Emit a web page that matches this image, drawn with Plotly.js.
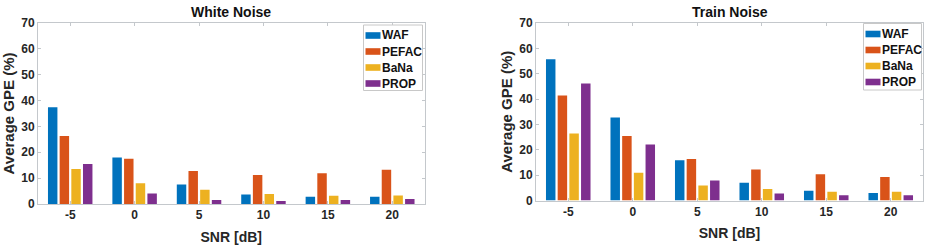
<!DOCTYPE html>
<html>
<head>
<meta charset="utf-8">
<script src="https://cdn.plot.ly/plotly-3.0.1.min.js"></script>
<style>html,body{margin:0;padding:0;background:#fff;}#chart{width:933px;height:246px;}</style>
</head>
<body>
<div id="chart"></div>
<script>
// ---- data ----
var snrLabels = ['-5', '0', '5', '10', '15', '20'];
var methods = ['WAF', 'PEFAC', 'BaNa', 'PROP'];
var colors = ['#0072BD', '#D95319', '#EDB120', '#7E2F8E'];

var whiteWAF   = [37.4, 18.0, 7.5, 3.7, 2.8, 2.8];
var whitePEFAC = [26.3, 17.5, 12.8, 11.2, 11.9, 13.2];
var whiteBaNa  = [13.5, 8.0, 5.5, 3.9, 3.2, 3.3];
var whitePROP  = [15.5, 4.1, 1.5, 1.2, 1.5, 1.9];

var trainWAF   = [55.7, 32.7, 15.9, 7.0, 3.8, 3.0];
var trainPEFAC = [41.4, 25.4, 16.4, 12.2, 10.4, 9.3];
var trainBaNa  = [26.4, 10.9, 5.9, 4.5, 3.5, 3.5];
var trainPROP  = [46.1, 22.1, 7.9, 2.8, 2.1, 2.1];

var titles = ['White Noise', 'Train Noise'];

// ---- build ----
var whiteSeries = [whiteWAF, whitePEFAC, whiteBaNa, whitePROP];
var trainSeries = [trainWAF, trainPEFAC, trainBaNa, trainPROP];
var traces = [];
function addTraces(series, xa, ya) {
  for (var i = 0; i < methods.length; i++) {
    traces.push({
      type: 'bar', x: snrLabels, y: series[i], name: methods[i],
      xaxis: xa, yaxis: ya, showlegend: false,
      marker: {color: colors[i], line: {width: 0}},
      hoverinfo: 'x+y+name'
    });
  }
}
addTraces(whiteSeries, 'x', 'y');
addTraces(trainSeries, 'x2', 'y2');

var W = 933, H = 246;
var txt = '#262626';
var fam = 'Liberation Sans, Arial, sans-serif';
var axLine = '#c4c8cc';

function xAxis(d0, d1, anchor) {
  return {
    domain: [d0 / W, d1 / W], anchor: anchor,
    type: 'category', categoryorder: 'array', categoryarray: snrLabels,
    range: [-0.5, 5.5], showgrid: false, zeroline: false,
    showline: true, linecolor: axLine, linewidth: 1, mirror: 'ticks',
    ticks: 'inside', ticklen: 3, tickcolor: axLine,
    tickfont: {family: fam, size: 12, color: txt, weight: 'bold'},
    title: {text: 'SNR [dB]', font: {family: fam, size: 14, color: txt, weight: 'bold'}, standoff: 10},
    fixedrange: true
  };
}
function yAxis(top, bottom, anchor) {
  return {
    domain: [(H - bottom) / H, (H - top) / H], anchor: anchor,
    range: [0, 70], dtick: 10, showgrid: false, zeroline: false,
    showline: true, linecolor: axLine, linewidth: 1, mirror: 'ticks',
    ticks: 'inside', ticklen: 3, tickcolor: axLine,
    tickfont: {family: fam, size: 12, color: txt, weight: 'bold'},
    title: {text: 'Average GPE (%)', font: {family: fam, size: 15, color: txt, weight: 'bold'}, standoff: 2},
    fixedrange: true
  };
}

// legend (drawn as a boxed key in paper pixels)
var shapes = [], annotations = [];
function px(x) { return x / W; }
function py(y) { return (H - y) / H; }
function addKey(left, top, right, bottom) {
  shapes.push({type: 'rect', xref: 'paper', yref: 'paper',
    x0: px(left), x1: px(right), y0: py(bottom), y1: py(top),
    line: {color: '#c8c8c8', width: 1}, fillcolor: '#ffffff', layer: 'above'});
  for (var i = 0; i < methods.length; i++) {
    var cy = top + 10.5 + i * 16;
    shapes.push({type: 'rect', xref: 'paper', yref: 'paper',
      x0: px(left + 2), x1: px(left + 17), y0: py(cy + 3.3), y1: py(cy - 3.3),
      line: {width: 0}, fillcolor: colors[i], layer: 'above'});
    annotations.push({text: methods[i], xref: 'paper', yref: 'paper',
      x: px(left + 16), y: py(cy), xanchor: 'left', yanchor: 'middle',
      showarrow: false, font: {family: fam, size: 12, color: '#111', weight: 'bold'}});
  }
}
addKey(363.5, 25, 422.5, 90.5);
addKey(863.5, 23.5, 921.5, 90);

annotations.push(
  {text: titles[0], xref: 'paper', yref: 'paper', x: px(231), y: py(12),
   xanchor: 'center', yanchor: 'middle', showarrow: false,
   font: {family: fam, size: 14, color: '#111', weight: 'bold'}},
  {text: titles[1], xref: 'paper', yref: 'paper', x: px(729.5), y: py(12),
   xanchor: 'center', yanchor: 'middle', showarrow: false,
   font: {family: fam, size: 14, color: '#111', weight: 'bold'}}
);

var layout = {
  width: W, height: H,
  margin: {l: 0, r: 0, t: 0, b: 0},
  paper_bgcolor: '#ffffff', plot_bgcolor: '#ffffff',
  barmode: 'group', bargap: 0.275, bargroupgap: 0.19,
  showlegend: false,
  xaxis: xAxis(38, 424.5, 'y'),
  yaxis: yAxis(23, 204, 'x'),
  xaxis2: xAxis(536, 923, 'y2'),
  yaxis2: yAxis(23, 200.5, 'x2'),
  shapes: shapes,
  annotations: annotations
};

Plotly.newPlot('chart', traces, layout, {displayModeBar: false});
</script>
</body>
</html>
